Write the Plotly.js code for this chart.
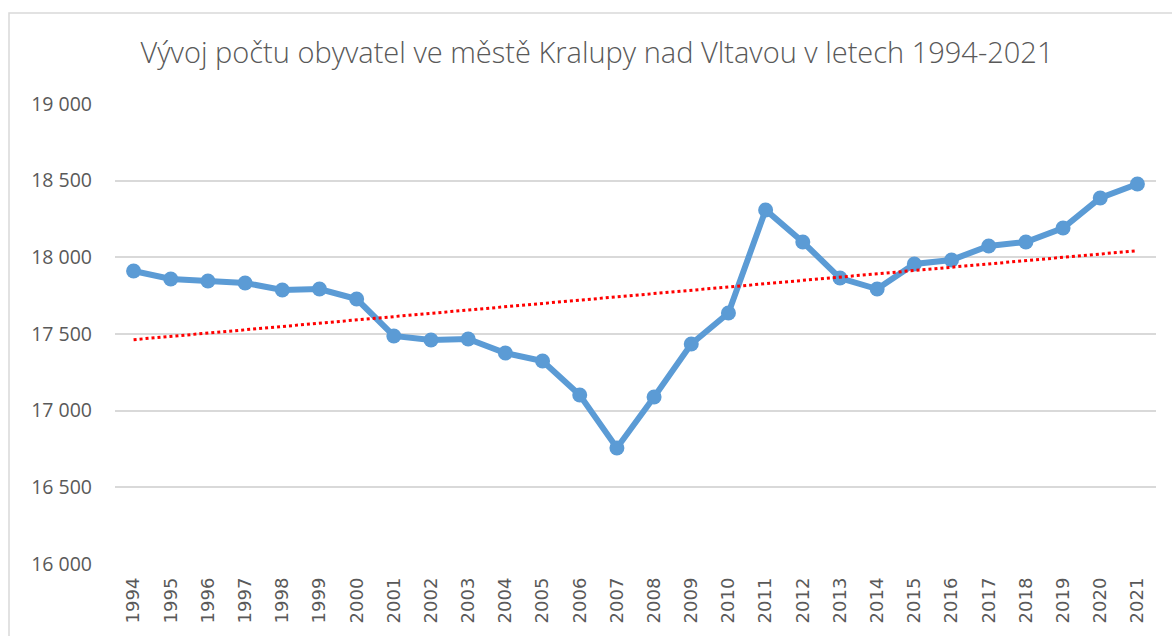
<!DOCTYPE html>
<html><head><meta charset="utf-8">
<script src="https://cdn.plot.ly/plotly-3.0.1.min.js"></script>
<style>html,body{margin:0;padding:0;background:#fff}#c{width:1172px;height:636px}</style>
</head><body><div id="c"></div>
<script>
const years = ['1994','1995','1996','1997','1998','1999','2000','2001','2002','2003','2004','2005','2006','2007','2008','2009','2010','2011','2012','2013','2014','2015','2016','2017','2018','2019','2020','2021'];
const population = [17911,17859,17846,17833,17787,17793,17728,17487,17461,17467,17376,17324,17102,16757,17089,17435,17637,18309,18100,17865,17793,17957,17983,18074,18100,18191,18387,18478];
const trendYears = ['1994','2021'];
const trendValues = [17463,18043];
const yTicks = [16000,16500,17000,17500,18000,18500,19000];
const yTickLabels = ['16 000','16 500','17 000','17 500','18 000','18 500','19 000'];

const W = 1172, H = 636;
const m = {l:115, r:16, t:104, b:72};
const pw = W - m.l - m.r, ph = H - m.t - m.b;

const data = [
  {x: years, y: population, type:'scatter', mode:'lines+markers',
   line:{color:'#5B9BD5', width:6}, marker:{color:'#5B9BD5', size:15}, hoverinfo:'x+y'},
  {x: trendYears, y: trendValues, type:'scatter', mode:'lines',
   line:{color:'#FF0000', width:3, dash:'dot'}}
];
const layout = {
  width:W, height:H, margin:m, showlegend:false,
  paper_bgcolor:'#fff', plot_bgcolor:'#fff',
  title:{text:'Vývoj počtu obyvatel ve městě Kralupy nad Vltavou v letech 1994-2021',
    font:{family:'Open Sans', size:29, color:'#595959', weight:300},
    x:597/W, xanchor:'center', xref:'container', y:1-53/H, yanchor:'middle'},
  xaxis:{type:'category', categoryorder:'array', categoryarray:years,
    range:[-0.5, years.length-0.5], tickangle:-90,
    tickfont:{family:'DejaVu Sans', size:18, color:'#595959'},
    showgrid:false, zeroline:false, showline:false, ticks:'', ticklen:0, ticklabelstandoff:9},
  yaxis:{range:[16000,19000], tickvals:yTicks, ticktext:yTickLabels,
    tickfont:{family:'Open Sans', size:19.5, color:'#595959'},
    showgrid:true, gridcolor:'#D9D9D9', gridwidth:2, zeroline:false, showline:false, ticks:'', ticklabelstandoff:22},
  shapes:[{type:'rect', xref:'paper', yref:'paper',
    x0:(9-m.l)/pw, x1:(1200-m.l)/pw, y0:(H-m.b-700)/ph, y1:(H-m.b-13)/ph,
    line:{color:'#D9D9D9', width:1.5}, fillcolor:'rgba(0,0,0,0)', layer:'below'}]
};
Plotly.newPlot('c', data, layout, {displayModeBar:false, staticPlot:true});
</script></body></html>
